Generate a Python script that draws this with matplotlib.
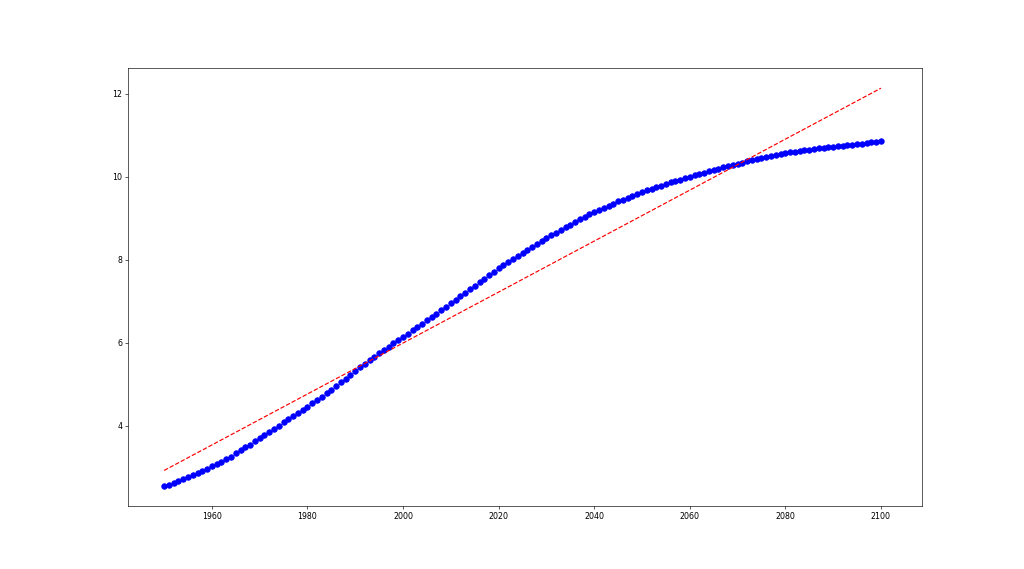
import numpy as np
import matplotlib
matplotlib.use("Agg")
import matplotlib.pyplot as plt

years = list(range(1950, 2101))
population = [
    # 1950-1959
    2.536, 2.584, 2.631, 2.678, 2.726, 2.773, 2.821, 2.869, 2.919, 2.969,
    # 1960-1969
    3.035, 3.077, 3.128, 3.187, 3.252, 3.340, 3.408, 3.477, 3.548, 3.622,
    # 1970-1979
    3.700, 3.776, 3.853, 3.928, 4.003, 4.079, 4.153, 4.228, 4.303, 4.380,
    # 1980-1989
    4.458, 4.537, 4.620, 4.703, 4.786, 4.871, 4.957, 5.047, 5.138, 5.233,
    # 1990-1999
    5.327, 5.411, 5.494, 5.577, 5.661, 5.744, 5.825, 5.906, 5.986, 6.065,
    # 2000-2009
    6.143, 6.222, 6.301, 6.380, 6.460, 6.542, 6.623, 6.705, 6.789, 6.872,
    # 2010-2019
    6.957, 7.041, 7.126, 7.211, 7.296, 7.380, 7.464, 7.548, 7.631, 7.713,
    # 2020-2029
    7.795, 7.871, 7.946, 8.021, 8.095, 8.168, 8.240, 8.312, 8.382, 8.452,
    # 2030-2039
    8.520, 8.588, 8.655, 8.721, 8.786, 8.850, 8.913, 8.975, 9.036, 9.096,
    # 2040-2049
    9.150, 9.200, 9.253, 9.305, 9.356, 9.405, 9.453, 9.500, 9.545, 9.589,
    # 2050-2059
    9.632, 9.673, 9.713, 9.752, 9.790, 9.827, 9.863, 9.898, 9.932, 9.966,
    # 2060-2069
    10.000, 10.034, 10.067, 10.100, 10.132, 10.164, 10.195, 10.226, 10.256, 10.286,
    # 2070-2079
    10.315, 10.344, 10.372, 10.399, 10.425, 10.451, 10.476, 10.500, 10.523, 10.545,
    # 2080-2089
    10.566, 10.586, 10.605, 10.623, 10.640, 10.656, 10.672, 10.687, 10.701, 10.715,
    # 2090-2099
    10.728, 10.741, 10.753, 10.765, 10.776, 10.787, 10.800, 10.815, 10.830, 10.845,
    # 2100
    10.860,
]

x = np.array(years, dtype=float)
y = np.array(population, dtype=float)
coef = np.polyfit(x, y, 1)
fit = np.poly1d(coef)

fig = plt.figure(figsize=(18, 10), dpi=56.9)
ax = fig.add_subplot(111)
ax.plot(x, y, 'bo', markersize=7)
ax.plot(x, fit(x), 'r--')
ax.set_xlim(1942.45, 2108.55)
fig.savefig("out.png", dpi=56.9)
